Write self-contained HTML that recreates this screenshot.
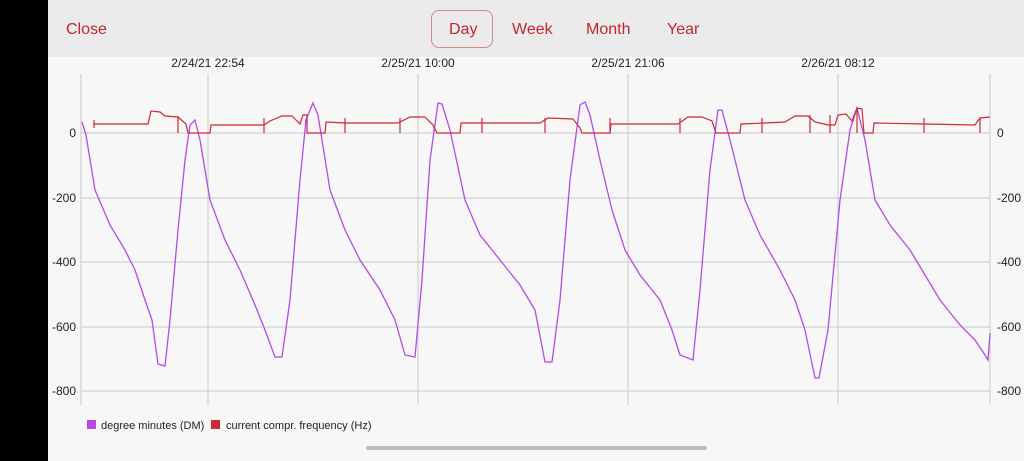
<!DOCTYPE html>
<html><head><style>
body{margin:0;width:1024px;height:461px;overflow:hidden;background:#000;font-family:"Liberation Sans",sans-serif;position:relative}
#main{position:absolute;left:48px;top:0;width:976px;height:461px;background:#f7f7f7}
#hdr{position:absolute;left:48px;top:0;width:976px;height:57px;background:#ebebeb}
.t{position:absolute;color:#c0282d;font-size:16px}
</style></head><body>
<div id="main"></div>
<div id="hdr"></div>
<div class="t" style="left:66px;top:21px">Close</div>
<div style="position:absolute;left:431px;top:10px;width:62px;height:38px;border:1px solid #d08a8a;border-radius:8px;box-sizing:border-box"></div>
<div class="t" style="left:449px;top:21px">Day</div>
<div class="t" style="left:512px;top:21px">Week</div>
<div class="t" style="left:586px;top:21px">Month</div>
<div class="t" style="left:667px;top:21px">Year</div>
<svg style="position:absolute;left:0;top:0" width="1024" height="461" font-family="Liberation Sans, sans-serif" font-size="12" fill="#222">
<g stroke="#c8c8c8" stroke-width="1">
<line x1="81" y1="133" x2="990" y2="133"/><line x1="81" y1="198" x2="990" y2="198"/><line x1="81" y1="262" x2="990" y2="262"/><line x1="81" y1="327" x2="990" y2="327"/><line x1="81" y1="391" x2="990" y2="391"/>
<line x1="81" y1="74" x2="81" y2="405"/><line x1="208" y1="74" x2="208" y2="405"/><line x1="418" y1="74" x2="418" y2="405"/><line x1="628" y1="74" x2="628" y2="405"/><line x1="838" y1="74" x2="838" y2="405"/><line x1="990" y1="74" x2="990" y2="405"/>
</g>
<g text-anchor="end"><text x="76" y="137">0</text><text x="76" y="202">-200</text><text x="76" y="266">-400</text><text x="76" y="331">-600</text><text x="76" y="395">-800</text></g>
<g><text x="997" y="137">0</text><text x="997" y="202">-200</text><text x="997" y="266">-400</text><text x="997" y="331">-600</text><text x="997" y="395">-800</text></g>
<g text-anchor="middle"><text x="208" y="67">2/24/21 22:54</text><text x="418" y="67">2/25/21 10:00</text><text x="628" y="67">2/25/21 21:06</text><text x="838" y="67">2/26/21 08:12</text></g>
<polyline fill="none" stroke="#b44ae8" stroke-width="1.3" points="82,122 86,135 95,190 110,225 125,250 135,270 145,300 152,320 158,364 165,366 170,320 178,230 185,160 190,125 195,120 200,140 210,200 225,240 240,270 255,305 265,330 275,357 282,357 290,300 300,180 306,120 313,103 318,115 330,190 345,230 360,260 380,290 395,320 405,355 415,357 422,280 430,160 438,103 442,104 450,130 465,200 480,235 500,260 520,285 535,310 545,362 552,362 560,300 570,180 580,105 585,102 590,115 600,160 612,210 625,250 640,275 660,300 672,330 680,355 693,360 700,290 710,170 718,110 722,110 730,140 745,200 760,235 780,270 795,300 805,330 815,378 819,378 828,330 840,200 850,130 857,108 865,140 875,200 890,225 910,250 925,275 940,300 960,325 975,340 985,355 988,360 990,333"/>
<g fill="none" stroke="#cc2a35" stroke-width="1.2">
<polyline points="94,124 148,124 151,111 160,112 165,116 178,117 186,124 188,133 210,133 211,125 264,125 270,121 282,116 292,116 300,124 303,115 307,115 307,133 325,133 326,122 345,123 398,123 410,117 425,117 433,125 437,133 460,133 461,123 540,123 548,118 573,119 580,128 582,133 610,133 611,124 678,124 688,117 702,117 712,121 716,133 740,133 741,124 765,123 785,122 795,116 808,116 815,122 828,125 835,125 838,115 846,114 852,121 857,108 862,109 864,133 873,133 874,123 925,124 975,125 980,118 990,117"/>
<path d="M94,120V128M178,116V133M264,118V133M345,118V133M400,118V133M482,118V133M545,118V133M610,118V133M680,118V133M762,118V133M810,115V133M830,115V133M857,108V133M924,118V133M980,118V133"/>
</g>
<rect x="87" y="420" width="9" height="9" fill="#b44ae8"/>
<text x="101" y="429" font-size="11">degree minutes (DM)</text>
<rect x="211" y="420" width="9" height="9" fill="#cc2a35"/>
<text x="226" y="429" font-size="11">current compr. frequency (Hz)</text>
<rect x="366" y="446" width="341" height="4" rx="2" fill="#bdbdbd"/>
</svg>
</body></html>
